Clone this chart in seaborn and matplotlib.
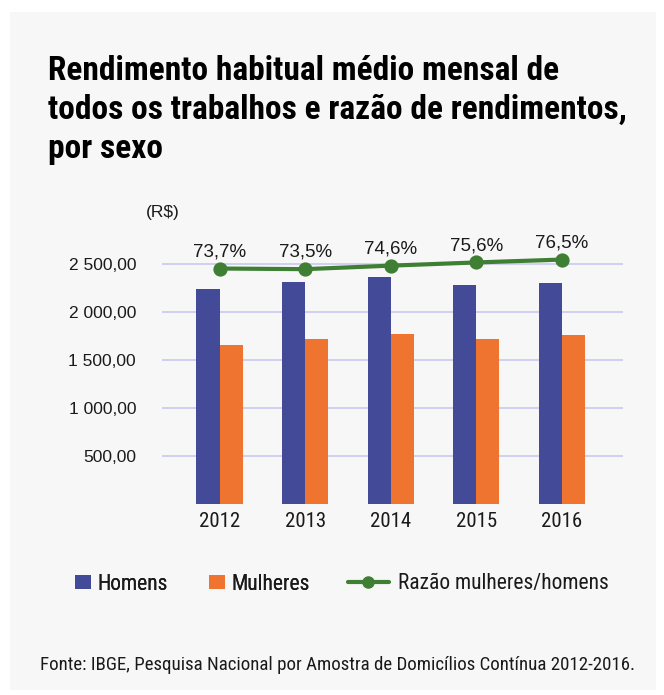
import numpy as np
import pandas as pd
import matplotlib
matplotlib.use("Agg")
import matplotlib.pyplot as plt
import seaborn as sns
from matplotlib import font_manager as fm
from matplotlib.patches import Patch, Rectangle
from matplotlib.lines import Line2D
from matplotlib.ticker import FuncFormatter, FixedLocator

# ---------------- data ----------------
anos = ["2012", "2013", "2014", "2015", "2016"]
homens = [2243, 2319, 2372, 2285, 2309]
mulheres = [1659, 1718, 1773, 1724, 1763]
razao = [73.7, 73.5, 74.6, 75.6, 76.5]
razao_labels = ["73,7%", "73,5%", "74,6%", "75,6%", "76,5%"]
yticks = [500, 1000, 1500, 2000, 2500]
series_names = ["Homens", "Mulheres"]
line_name = "Razão mulheres/homens"
title_lines = ["Rendimento habitual médio mensal de",
               "todos os trabalhos e razão de rendimentos,",
               "por sexo"]
unit_label = "(R$)"
source = "Fonte: IBGE, Pesquisa Nacional por Amostra de Domicílios Contínua 2012-2016."

# ---------------- style ----------------
sns.set_theme(style="white")
names = {f.name for f in fm.fontManager.ttflist}

def pick(*cands):
    for c in cands:
        if c in names:
            return c
    return "DejaVu Sans"

COND = pick("Roboto Condensed", "Liberation Sans Narrow", "Open Sans Condensed", "Roboto")
REG = pick("Liberation Sans", "Arial", "Roboto")
plt.rcParams["font.family"] = [REG, "DejaVu Sans"]

BG = "#f7f7f7"
BLUE = "#434a98"
ORANGE = "#ee7430"
GREEN = "#3f7f34"
GRID = "#c9c9ef"
TXT = "#1a1a1a"

W, H = 664, 695
fig = plt.figure(figsize=(W / 100, H / 100), dpi=100, facecolor="white")
fig.patches.append(Rectangle((10 / W, 1 - 690 / H), 646 / W, 678 / H,
                             transform=fig.transFigure, facecolor=BG,
                             edgecolor="none", zorder=-10))

ax = fig.add_axes([162 / W, 1 - 503.9 / H, 461 / W, 258.7 / H])
ax.set_facecolor("none")

df = pd.DataFrame({
    "ano": anos * 2,
    "valor": homens + mulheres,
    "sexo": [series_names[0]] * len(anos) + [series_names[1]] * len(anos),
})
sns.barplot(data=df, x="ano", y="valor", hue="sexo", palette=[BLUE, ORANGE],
            width=0.54, gap=0, saturation=1, errorbar=None, legend=False, ax=ax,
            linewidth=0, edgecolor="none")

ax.set_ylim(0, 2700)
ax.yaxis.set_major_locator(FixedLocator(yticks))
ax.yaxis.set_major_formatter(FuncFormatter(
    lambda v, p: f"{v:,.2f}".replace(",", " ").replace(".", ",")))
ax.grid(axis="y", color=GRID, lw=1.2)
ax.grid(axis="x", visible=False)
ax.set_axisbelow(True)
ax.tick_params(axis="y", length=0, pad=18.7, labelsize=12.5, labelcolor=TXT)
ax.tick_params(axis="x", length=0, pad=5.6, labelsize=15, labelcolor=TXT)
for t in ax.get_xticklabels():
    t.set_fontfamily([COND, "DejaVu Sans"])
ax.set_xlabel("")
ax.set_ylabel("")
for s in ax.spines.values():
    s.set_visible(False)

ax2 = ax.twinx()
sns.pointplot(x=anos, y=razao, ax=ax2, color=GREEN, markers="o", linestyles="-",
              errorbar=None, markersize=8, linewidth=3)
ax2.set_ylim(0, 81)
ax2.set_yticks([])
ax2.set_ylabel("")
ax2.grid(False)
for s in ax2.spines.values():
    s.set_visible(False)
for i, (r, lab) in enumerate(zip(razao, razao_labels)):
    ax2.annotate(lab, (i, r), xytext=(0, 12), textcoords="offset points",
                 ha="center", va="center", fontsize=13.5, color=TXT)
ax.set_xlim(-0.672, 4.714)

# unit label
fig.text(163 / W, 1 - 212.5 / H, unit_label, ha="center", va="center",
         fontsize=12.5, color=TXT)

# title
for k, (line, base) in enumerate(zip(title_lines, [80, 119, 158])):
    fig.text(48 / W, 1 - base / H, line, ha="left", va="baseline",
             fontsize=24, fontweight="bold", color="black",
             family=[COND, "DejaVu Sans"])

# legends
LFS = 15.5
h1 = [Patch(facecolor=BLUE, edgecolor="none", label=series_names[0]),
      Patch(facecolor=ORANGE, edgecolor="none", label=series_names[1])]
leg1 = fig.legend(handles=h1, loc="center left", bbox_to_anchor=(75 / W, 1 - 584 / H),
                  ncol=2, frameon=False, borderpad=0, borderaxespad=0,
                  handlelength=0.72, handleheight=0.64, handletextpad=0.3,
                  columnspacing=1.95, prop={"family": [COND, "DejaVu Sans"], "size": LFS})
for t in leg1.get_texts():
    t.set_color(TXT)
h2 = [Line2D([], [], color=GREEN, lw=3, marker="o", markersize=8, label=line_name)]
leg2 = fig.legend(handles=h2, loc="center left", bbox_to_anchor=(348 / W, 1 - 584 / H),
                  frameon=False, borderpad=0, borderaxespad=0,
                  handlelength=1.9, handletextpad=0.42,
                  prop={"family": [COND, "DejaVu Sans"], "size": LFS})
for t in leg2.get_texts():
    t.set_color(TXT)
fig.add_artist(leg1)

# source
fig.text(40 / W, 1 - 665 / H, source, ha="left", va="center", fontsize=13.6,
         color=TXT, family=[COND, "DejaVu Sans"])

fig.savefig("out.png", dpi=100, facecolor=fig.get_facecolor())
